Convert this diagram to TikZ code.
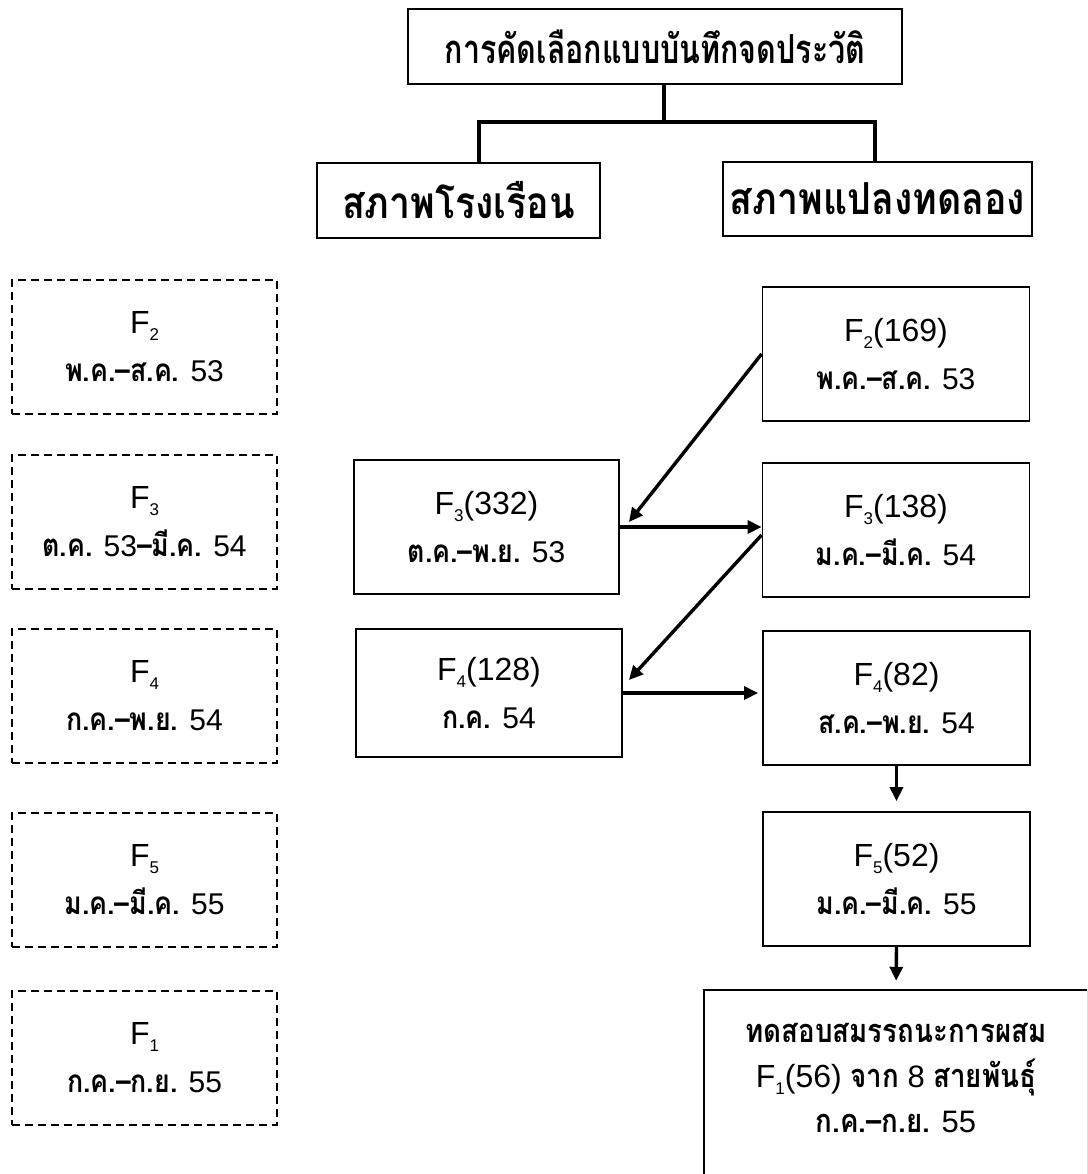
\documentclass[tikz,border=0pt]{standalone}
\usepackage{fontspec}
\setmainfont{Liberation Sans}
\newfontfamily\thaifont[Script=Thai,Scale=1.05,FakeStretch=0.85]{Loma}
\newfontfamily\headfont[Script=Thai,FakeStretch=0.76]{Loma}
\usetikzlibrary{arrows.meta}

\newcommand\tht[1]{{\thaifont\bfseries #1}}
\newcommand\Fn[2]{{\fontsize{32}{32}\selectfont F\raisebox{-7pt}{\fontsize{17}{17}\selectfont #1}#2}}

\tikzset{
  box/.style={draw, line width=1.8pt, align=center, inner sep=0pt, font=\fontsize{30}{48}\selectfont},
  gen/.style={box, minimum width=267pt, minimum height=134pt},
  plan/.style={gen, minimum width=265pt, line width=1.6pt, dash pattern=on 8pt off 5pt},
  head/.style={box, font=\headfont\bfseries\fontsize{40}{44}\selectfont},
  branch/.style={box, font=\thaifont\bfseries\fontsize{42}{46}\selectfont},
  tree/.style={line width=4pt},
  arr/.style={line width=3.4pt, -{Triangle[length=14pt,width=13pt]}},
}

\begin{document}
\begin{tikzpicture}[x=1pt, y=-1pt]
  \useasboundingbox (0,0) rectangle (1087,1174);
  \clip (0,0) rectangle (1087,1174);
  % the heading and its two branches
  \node[head, minimum width=494pt, minimum height=75pt] (top) at (655,46.5) {การคัดเลือกแบบบันทึกจดประวัติ};
  \node[branch, minimum width=283pt, minimum height=75pt] (house) at (458.5,200.5) {สภาพโรงเรือน};
  \node[branch, minimum width=309pt, minimum height=74pt] (field) at (877.5,199) {สภาพแปลงทดลอง};
  \draw[tree] ([xshift=9pt]top.south) -- ++(0,37) coordinate (fork);
  \draw[tree] ([xshift=20pt]house.north) |- (fork) -| ([xshift=-3pt]field.north);
  % the planned generations, dashed
  \node[plan] (p2) at (144.5,347) {\Fn{2}{}\\\tht{พ.ค.–ส.ค.} 53};
  \node[plan] (p3) at (144.5,522) {\Fn{3}{}\\\tht{ต.ค.} 53\tht{–มี.ค.} 54};
  \node[plan] (p4) at (144.5,696) {\Fn{4}{}\\\tht{ก.ค.–พ.ย.} 54};
  \node[plan] (p5) at (144.5,880) {\Fn{5}{}\\\tht{ม.ค.–มี.ค.} 55};
  \node[plan] (p1) at (144.5,1058) {\Fn{1}{}\\\tht{ก.ค.–ก.ย.} 55};
  % the greenhouse
  \node[gen, minimum width=265pt] (h3) at (486.5,527) {\Fn{3}{(332)}\\\tht{ต.ค.–พ.ย.} 53};
  \node[gen, minimum width=266pt, minimum height=128pt] (h4) at (489,693) {\Fn{4}{(128)}\\\tht{ก.ค.} 54};
  % the field plots
  \node[gen] (g2) at (896,354) {\Fn{2}{(169)}\\\tht{พ.ค.–ส.ค.} 53};
  \node[gen] (g3) at (896,530) {\Fn{3}{(138)}\\\tht{ม.ค.–มี.ค.} 54};
  \node[gen] (g4) at (896.5,698) {\Fn{4}{(82)}\\\tht{ส.ค.–พ.ย.} 54};
  \node[gen] (g5) at (896.5,879) {\Fn{5}{(52)}\\\tht{ม.ค.–มี.ค.} 55};
  \node[font=\fontsize{31}{45}\selectfont, align=center, inner sep=0pt,
        minimum width=384pt, minimum height=176pt] (test) at (896,1078)
        {\tht{ทดสอบสมรรถนะการผสม}\\\Fn{1}{(56)} \tht{จาก} 8 \tht{สายพันธุ์}\\\tht{ก.ค.–ก.ย.} 55};
  \draw[line width=1.8pt] ([yshift=-20pt]test.south west) -- (test.north west) -- (test.north east) -- ([yshift=-20pt]test.south east);
  % arrows
  \draw[arr] (g2.west) -- ([xshift=9pt,yshift=5pt]h3.east);
  \draw[arr] (h3.east) -- (h3.east -| g3.west);
  \draw[arr] ([yshift=-5pt]g3.west) -- ([xshift=6pt,yshift=13pt]h4.east);
  \draw[arr, shorten >=4pt] (h4.east) -- (h4.east -| g4.west);
  \draw[arr, shorten >=10pt] (g4.south) -- (g5.north);
  \draw[arr, shorten >=9pt] (g5.south) -- (test.north);
\end{tikzpicture}
\end{document}
